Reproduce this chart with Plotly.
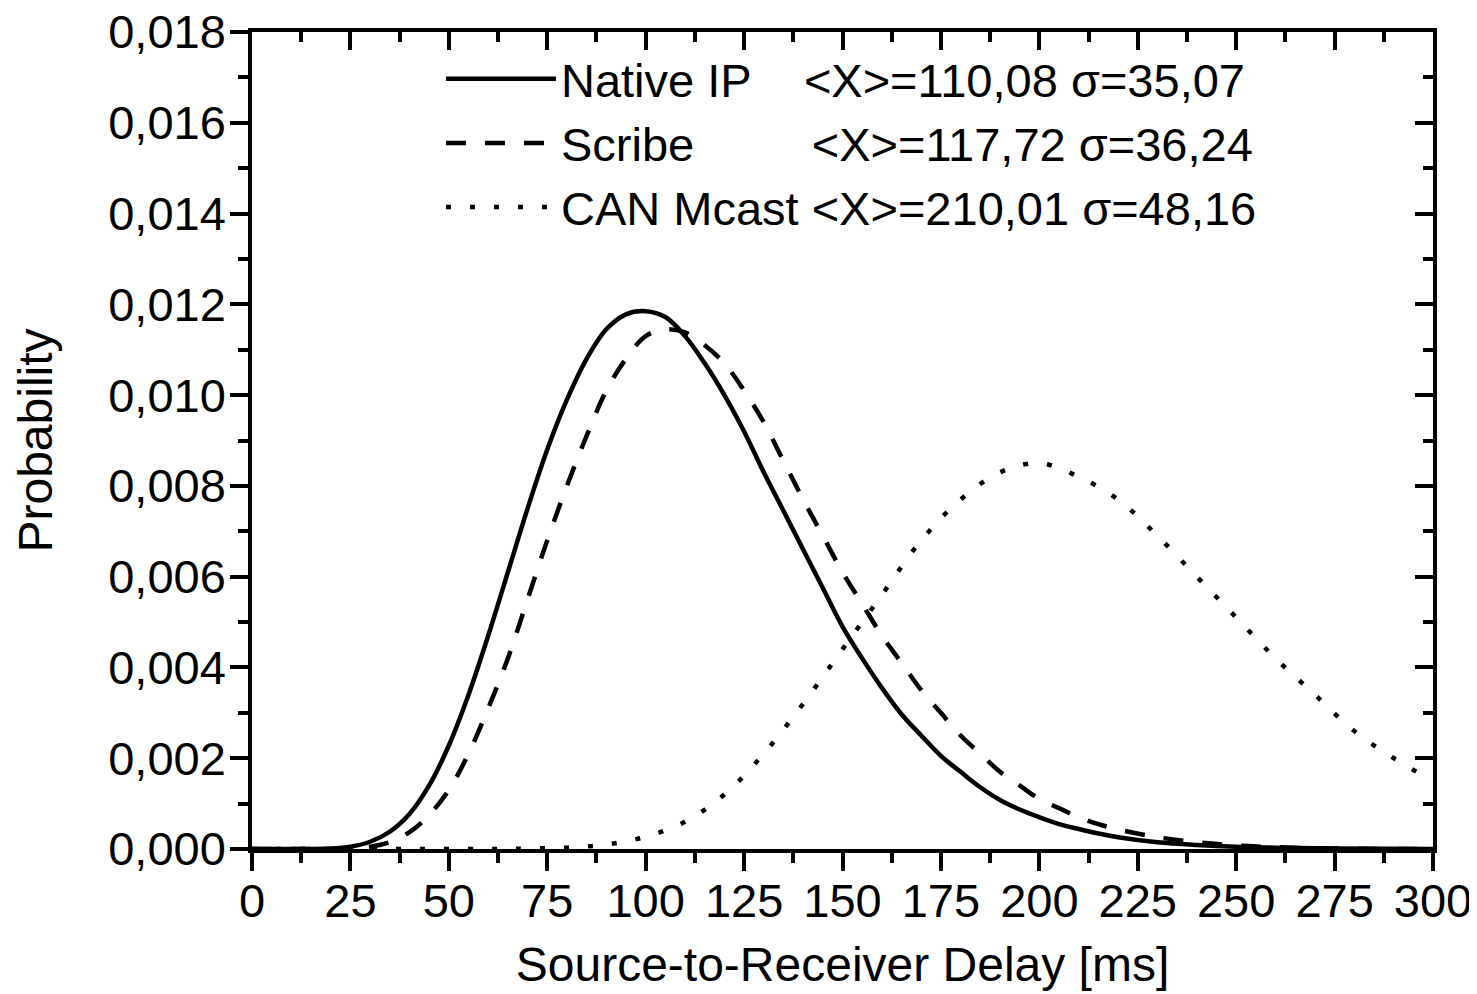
import plotly.graph_objects as go

# ---------------- data ----------------
delay_native = [0, 10, 20, 25, 30, 35, 40, 45, 50, 55, 60, 65, 70, 75, 80, 85, 90, 95,
                100, 105, 110, 115, 120, 125, 130, 135, 140, 145, 150, 155, 160, 165, 170,
                175, 180, 185, 190, 195, 200, 205, 210, 215, 220, 230, 240, 250, 260, 275, 300]
prob_native = [0, 0, 0.00001, 0.00005, 0.00016, 0.00038, 0.00077, 0.0014, 0.00228, 0.0034,
               0.0047, 0.0061, 0.0075, 0.0088, 0.0099, 0.0108, 0.01145, 0.01178,
               0.01185, 0.01172, 0.0113, 0.0107, 0.0100, 0.0092, 0.0083, 0.00745, 0.0066,
               0.00575, 0.0049, 0.0042, 0.00355, 0.00297, 0.0025,
               0.00205, 0.0017, 0.00136, 0.00108, 0.00087, 0.0007, 0.00055, 0.00044,
               0.00034, 0.00026, 0.00015, 0.00009, 0.00005, 0.00003, 0.00001, 0]

delay_scribe = [0, 10, 20, 25, 30, 35, 40, 45, 50, 55, 60, 65, 70, 75, 80, 85, 90, 95,
                100, 105, 110, 115, 120, 125, 130, 135, 140, 145, 150, 155, 160, 165, 170,
                175, 180, 185, 190, 195, 200, 205, 210, 215, 220, 230, 240, 250, 260, 275, 300]
prob_scribe = [0, 0, 0, 0.00001, 0.00005, 0.00015, 0.00037, 0.00075, 0.0013, 0.0021,
               0.0031, 0.0042, 0.0055, 0.0068, 0.0080, 0.0091, 0.0101, 0.0108,
               0.0113, 0.01145, 0.01138, 0.0111, 0.0107, 0.0101, 0.0094, 0.00855, 0.0077,
               0.0069, 0.0061, 0.0054, 0.0047, 0.0041, 0.0035,
               0.0030, 0.0025, 0.0021, 0.0017, 0.0014, 0.0011, 0.0009, 0.0007,
               0.00055, 0.00043, 0.00026, 0.00015, 0.00008, 0.00004, 0.00001, 0]

delay_can = [0, 20, 40, 60, 70, 80, 90, 100, 110, 120, 130, 140, 150, 160, 170, 180, 190,
             200, 210, 220, 230, 240, 250, 260, 270, 280, 290, 300]
prob_can = [0, 0, 0, 0, 0.00001, 0.00003, 0.0001, 0.00027, 0.0006, 0.0012, 0.0021, 0.0032,
            0.0044, 0.0056, 0.0068, 0.0077, 0.0083, 0.0085, 0.0082, 0.0077, 0.0069,
            0.0060, 0.0051, 0.0042, 0.0034, 0.0026, 0.0020, 0.0015]

series_names = [
    "Native IP\u00a0\u00a0\u00a0\u00a0&lt;X&gt;=110,08 σ=35,07",
    "Scribe\u00a0\u00a0\u00a0\u00a0\u00a0\u00a0\u00a0\u00a0\u00a0&lt;X&gt;=117,72 σ=36,24",
    "CAN Mcast &lt;X&gt;=210,01 σ=48,16",
]

x_ticks = [0, 25, 50, 75, 100, 125, 150, 175, 200, 225, 250, 275, 300]
y_ticks = [0, 0.002, 0.004, 0.006, 0.008, 0.010, 0.012, 0.014, 0.016, 0.018]

x_title = "Source-to-Receiver Delay [ms]"
y_title = "Probability"

# ---------------- figure ----------------
FONT = "Liberation Sans, Arial, sans-serif"
LW = 4.5

fig = go.Figure()
fig.add_trace(go.Scatter(x=delay_native, y=prob_native, mode="lines", name=series_names[0],
                         line=dict(color="black", width=LW, shape="spline", smoothing=1.0)))
fig.add_trace(go.Scatter(x=delay_scribe, y=prob_scribe, mode="lines", name=series_names[1],
                         line=dict(color="black", width=LW, shape="spline", smoothing=1.0,
                                   dash="20px,19px")))
fig.add_trace(go.Scatter(x=delay_can, y=prob_can, mode="lines", name=series_names[2],
                         line=dict(color="black", width=LW, shape="spline", smoothing=1.0,
                                   dash="5px,19px")))
# helper trace for the mirrored (top / right) axes
fig.add_trace(go.Scatter(x=[], y=[], xaxis="x2", yaxis="y2", showlegend=False,
                         hoverinfo="skip"))

axis_common = dict(showline=True, linecolor="black", linewidth=3.5, tickcolor="black",
                   tickwidth=3.5, ticklen=18, showgrid=False, zeroline=False,
                   automargin=False)

fig.update_layout(
    width=1477, height=994,
    paper_bgcolor="white", plot_bgcolor="white",
    separators=",.",
    font=dict(family=FONT, size=47, color="black"),
    margin=dict(l=244, r=52, t=24, b=153),
    xaxis=dict(range=[0, 300], tickvals=x_ticks, ticks="outside",
               tickfont=dict(size=47), ticklabelstandoff=-10, ticklabeloverflow="allow",
               title=dict(text=x_title, font=dict(size=48), standoff=22),
               minor=dict(dtick=12.5, tick0=0, ticklen=10, tickwidth=3.5, tickcolor="black",
                          ticks="outside"),
               **axis_common),
    yaxis=dict(range=[0, 0.018], tickvals=y_ticks, tickformat=".3f", ticks="outside",
               tickfont=dict(size=47), ticklabelstandoff=-5, ticklabeloverflow="allow",
               title=dict(text=y_title, font=dict(size=48), standoff=41),
               minor=dict(dtick=0.001, tick0=0, ticklen=10, tickwidth=3.5, tickcolor="black",
                          ticks="outside"),
               **axis_common),
    xaxis2=dict(range=[0, 300], tickvals=x_ticks, ticks="inside", overlaying="x",
                side="top", anchor="y", showticklabels=False,
                minor=dict(dtick=12.5, tick0=0, ticklen=10, tickwidth=3.5, tickcolor="black",
                           ticks="inside"),
                **axis_common),
    yaxis2=dict(range=[0, 0.018], tickvals=y_ticks, ticks="inside", overlaying="y",
                side="right", anchor="x", showticklabels=False,
                minor=dict(dtick=0.001, tick0=0, ticklen=10, tickwidth=3.5, tickcolor="black",
                           ticks="inside"),
                **axis_common),
    legend=dict(x=0.16, y=0.988, xanchor="left", yanchor="top",
                bgcolor="rgba(0,0,0,0)", borderwidth=0, itemwidth=110,
                font=dict(size=47), tracegroupgap=0),
    showlegend=True,
)

fig.write_html("out.html")
